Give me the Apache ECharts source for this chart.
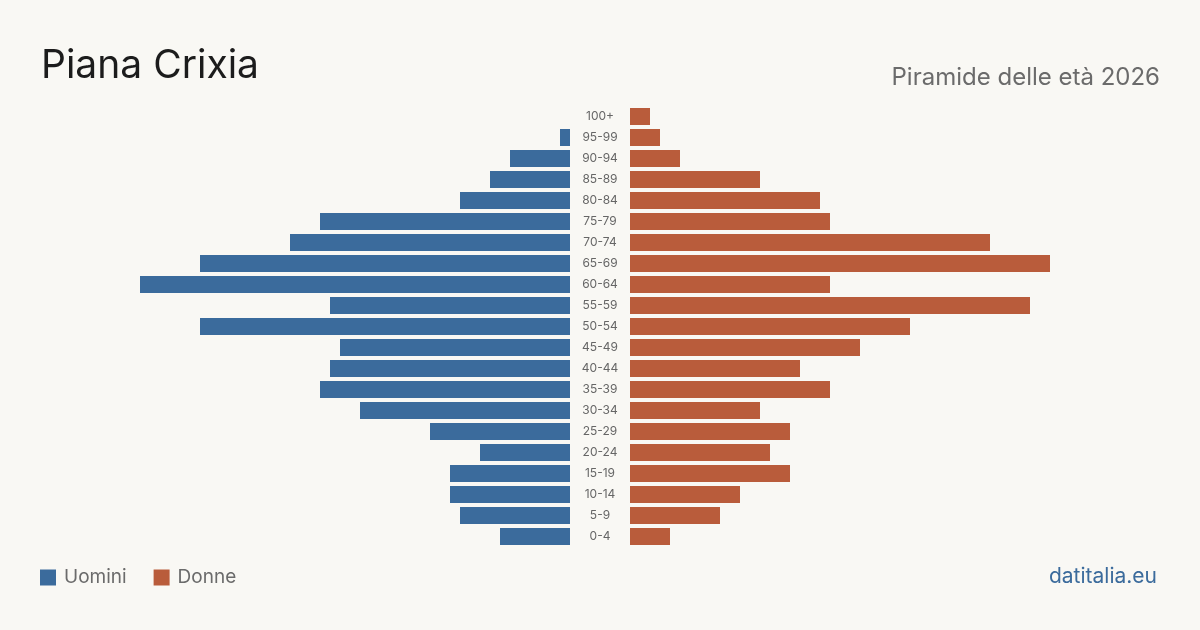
<!DOCTYPE html>
<html>
<head>
<meta charset="utf-8">
<script src="https://cdn.jsdelivr.net/npm/echarts@6/dist/echarts.min.js"></script>
<style>
  html, body { margin: 0; padding: 0; background: #f9f8f4; }
  #chart { width: 1200px; height: 630px; }
</style>
</head>
<body>
<div id="chart"></div>
<script>
// classi di età, dal basso verso l'alto
const ageGroups = ['0-4', '5-9', '10-14', '15-19', '20-24', '25-29', '30-34', '35-39', '40-44', '45-49',
    '50-54', '55-59', '60-64', '65-69', '70-74', '75-79', '80-84', '85-89', '90-94', '95-99', '100+'];
const uomini = [7, 11, 12, 12, 9, 14, 21, 25, 24, 23, 37, 24, 43, 37, 28, 25, 11, 8, 6, 1, 0];
const donne = [4, 9, 11, 16, 14, 16, 13, 20, 17, 23, 28, 40, 20, 42, 36, 20, 19, 13, 5, 3, 2];
const maxValue = 43;

const BLUE = '#3b6b9c';
const ORANGE = '#b95c3b';

const chart = echarts.init(document.getElementById('chart'));
chart.setOption({
    animation: false,
    backgroundColor: '#f9f8f4',
    textStyle: { fontFamily: 'Inter' },
    title: [{
        text: 'Piana Crixia',
        left: 41,
        top: 47,
        padding: 0,
        textStyle: { fontFamily: 'Inter', fontSize: 39, fontWeight: 'normal', color: '#1c1c1c' }
    }, {
        text: 'Piramide delle età 2026',
        right: 40,
        top: 66,
        padding: 0,
        textStyle: { fontFamily: 'Inter', fontSize: 24, fontWeight: 'normal', color: '#6b6b6b' }
    }, {
        text: 'datitalia.eu',
        right: 43,
        top: 566,
        padding: 0,
        textStyle: { fontFamily: 'Inter', fontSize: 21, fontWeight: 'normal', color: '#3b6b9c' }
    }],
    legend: {
        left: 40,
        top: 568,
        padding: 0,
        itemWidth: 16,
        itemHeight: 16,
        itemGap: 27,
        icon: 'rect',
        textStyle: { fontFamily: 'Inter', fontSize: 19, color: '#6b6b6b', padding: [0, 0, 0, 3] },
        data: ['Uomini', 'Donne']
    },
    grid: [
        { left: 140, width: 430, top: 106, height: 441 },
        { left: 630, width: 430, top: 106, height: 441 }
    ],
    xAxis: [
        { gridIndex: 0, type: 'value', min: 0, max: maxValue, inverse: true, show: false },
        { gridIndex: 1, type: 'value', min: 0, max: maxValue, show: false }
    ],
    yAxis: [
        {
            gridIndex: 0,
            type: 'category',
            position: 'right',
            data: ageGroups,
            axisLine: { show: false },
            axisTick: { show: false },
            axisLabel: {
                margin: 30,
                align: 'center',
                fontFamily: 'Inter',
                fontSize: 12,
                color: '#666666',
                padding: [4, 0, 0, 0]
            }
        },
        {
            gridIndex: 1,
            type: 'category',
            data: ageGroups,
            axisLine: { show: false },
            axisTick: { show: false },
            axisLabel: { show: false }
        }
    ],
    series: [
        {
            name: 'Uomini',
            type: 'bar',
            xAxisIndex: 0,
            yAxisIndex: 0,
            data: uomini,
            barCategoryGap: '19%',
            itemStyle: { color: BLUE }
        },
        {
            name: 'Donne',
            type: 'bar',
            xAxisIndex: 1,
            yAxisIndex: 1,
            data: donne,
            barCategoryGap: '19%',
            itemStyle: { color: ORANGE }
        }
    ]
});
</script>
</body>
</html>
